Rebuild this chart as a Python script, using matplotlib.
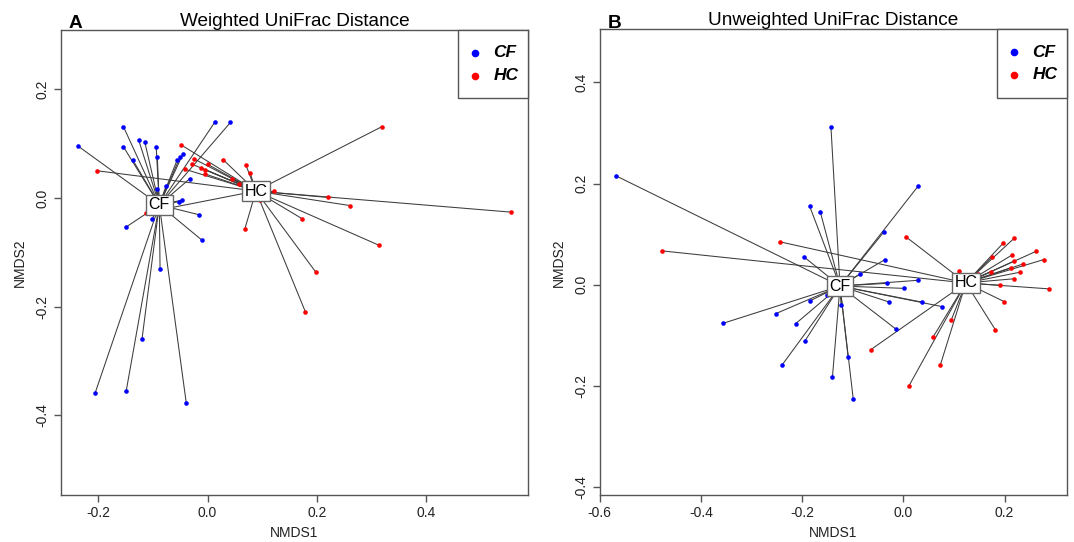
#!/usr/bin/env python3
# -*- coding: utf-8 -*-
"""
NMDS spider plots (weighted / unweighted UniFrac), CF vs HC
- Saves plot to out.png
"""

import matplotlib
matplotlib.use("Agg")
import matplotlib.pyplot as plt
from matplotlib.patches import Rectangle
import numpy as np

plt.rcParams["font.family"] = ["Liberation Sans", "DejaVu Sans"]
plt.rcParams["axes.unicode_minus"] = False

# ---- data: weighted UniFrac ----
cf_w_x = [-0.238, -0.154, -0.154, -0.137, -0.126, -0.115, -0.094, -0.092, -0.056,
          -0.050, -0.045, -0.033, 0.013, 0.042, -0.076, -0.093, -0.053, -0.047,
          -0.101, -0.150, -0.015, -0.011, -0.087, -0.206, -0.149, -0.120, -0.039]
cf_w_y = [0.096, 0.131, 0.094, 0.070, 0.106, 0.103, 0.093, 0.076, 0.069,
          0.076, 0.081, 0.035, 0.139, 0.139, 0.022, 0.017, -0.007, -0.004,
          -0.038, -0.054, -0.031, -0.077, -0.130, -0.359, -0.355, -0.259, -0.377]
hc_w_x = [-0.202, -0.049, -0.025, -0.028, -0.042, -0.012, -0.004, 0.000, -0.004,
          0.029, 0.070, 0.078, 0.045, 0.057, 0.319, 0.121, 0.220, 0.261,
          0.555, 0.173, 0.314, 0.198, 0.068, 0.096, -0.113, 0.179]
hc_w_y = [0.050, 0.098, 0.072, 0.062, 0.053, 0.055, 0.052, 0.062, 0.044,
          0.070, 0.061, 0.046, 0.034, 0.026, 0.131, 0.012, 0.001, -0.014,
          -0.026, -0.038, -0.087, -0.136, -0.058, -0.004, -0.027, -0.209]

# ---- data: unweighted UniFrac ----
cf_u_x = [-0.567, -0.143, -0.185, -0.164, 0.030, -0.038, -0.036, -0.196, -0.086,
          -0.032, 0.030, 0.001, -0.150, -0.185, -0.123, -0.028, 0.036, 0.076,
          -0.252, -0.356, -0.213, -0.014, -0.195, -0.240, -0.109, -0.140, -0.099]
cf_u_y = [0.215, 0.312, 0.155, 0.144, 0.196, 0.105, 0.050, 0.055, 0.021,
          0.003, 0.009, -0.007, -0.020, -0.032, -0.040, -0.034, -0.034, -0.043,
          -0.057, -0.076, -0.077, -0.088, -0.112, -0.159, -0.143, -0.182, -0.225]
hc_u_x = [-0.476, -0.244, 0.005, 0.219, 0.197, 0.262, 0.215, 0.175, 0.278,
          0.219, 0.236, 0.213, 0.111, 0.173, 0.231, 0.219, 0.192, 0.288,
          0.199, 0.182, 0.095, 0.059, -0.064, 0.073, 0.011, 0.148]
hc_u_y = [0.067, 0.085, 0.095, 0.092, 0.082, 0.066, 0.059, 0.055, 0.050,
          0.047, 0.041, 0.034, 0.028, 0.026, 0.025, 0.012, -0.001, -0.008,
          -0.033, -0.089, -0.069, -0.103, -0.128, -0.159, -0.200, 0.021]

groups = ["CF", "HC"]
colors = {"CF": "#0000FF", "HC": "#FF0000"}

panels = [
    dict(tag="A", title="Weighted UniFrac Distance",
         data={"CF": (cf_w_x, cf_w_y), "HC": (hc_w_x, hc_w_y)},
         xlim=(-0.269, 0.587), ylim=(-0.547, 0.309),
         xticks=[-0.2, 0.0, 0.2, 0.4], yticks=[-0.4, -0.2, 0.0, 0.2],
         rect=[60.7 / 1074, 46.7 / 542, 467.3 / 1074, 465.3 / 542], tag_x=69),
    dict(tag="B", title="Unweighted UniFrac Distance",
         data={"CF": (cf_u_x, cf_u_y), "HC": (hc_u_x, hc_u_y)},
         xlim=(-0.600, 0.3235), ylim=(-0.416, 0.505),
         xticks=[-0.6, -0.4, -0.2, 0.0, 0.2], yticks=[-0.4, -0.2, 0.0, 0.2, 0.4],
         rect=[599.7 / 1074, 46.7 / 542, 467.3 / 1074, 466.0 / 542], tag_x=608),
]

fig = plt.figure(figsize=(10.74, 5.42), dpi=100)
frame_col = "#555555"

for p in panels:
    ax = fig.add_axes(p["rect"])

    # spider lines from group centroid
    for g in groups:
        x, y = np.array(p["data"][g][0]), np.array(p["data"][g][1])
        cx, cy = x.mean(), y.mean()
        for xi, yi in zip(x, y):
            ax.plot([cx, xi], [cy, yi], color="#3c3c3c", lw=0.75, zorder=2)

    # points
    for g in groups:
        x, y = p["data"][g]
        ax.plot(x, y, "o", color=colors[g], ms=3.3, mec="none", zorder=3)

    # centroid labels
    for g in groups:
        x, y = np.array(p["data"][g][0]), np.array(p["data"][g][1])
        ax.text(x.mean(), y.mean(), g, ha="center", va="center", fontsize=11.5,
                zorder=5,
                bbox=dict(boxstyle="square,pad=0.17", fc="white", ec="#666666", lw=1.0))

    ax.set_xlim(*p["xlim"])
    ax.set_ylim(*p["ylim"])
    ax.set_xticks(p["xticks"])
    ax.set_yticks(p["yticks"])
    ax.set_xticklabels([f"{t:.1f}" for t in p["xticks"]])
    ax.set_yticklabels([f"{t:.1f}" for t in p["yticks"]], rotation=90, va="center")
    ax.tick_params(direction="out", length=5, width=1.0, color=frame_col,
                   labelsize=10, labelcolor="#222222", pad=3)
    for s in ax.spines.values():
        s.set_color(frame_col)
        s.set_linewidth(1.0)

    ax.set_xlabel("NMDS1", fontsize=10, color="#222222")
    ax.set_ylabel("NMDS2", fontsize=10, color="#222222")
    ax.xaxis.set_label_coords(0.5, -0.066)
    ax.yaxis.set_label_coords(-0.072, 0.5)
    ax.set_title(p["title"], fontsize=13.7, pad=2)

    fig.text(p["tag_x"] / 1074, 1 - 27.5 / 542, p["tag"], fontsize=13.7,
             fontweight="bold", va="baseline", ha="left")

    # legend box (top right)
    ax.add_patch(Rectangle((0.851, 0.853), 0.149, 0.147, transform=ax.transAxes,
                           fc="white", ec=frame_col, lw=1.0, zorder=6, clip_on=False))
    for g, ly in zip(groups, [0.951, 0.902]):
        ax.plot([0.8866], [ly], "o", color=colors[g], ms=5.5, mec="none",
                transform=ax.transAxes, zorder=7, clip_on=False)
        ax.text(0.9257, ly, g, transform=ax.transAxes, fontsize=12.5,
                fontweight="bold", fontstyle="italic", va="center", ha="left", zorder=7)

fig.savefig("out.png", dpi=100)
print("[Saved] out.png")
